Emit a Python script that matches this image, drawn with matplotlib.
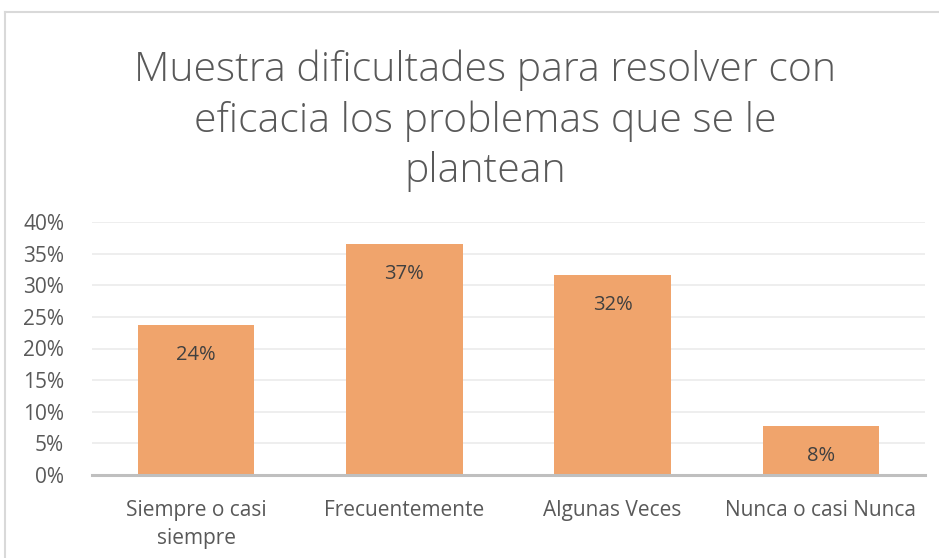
import matplotlib
matplotlib.use("Agg")
import matplotlib.pyplot as plt
from matplotlib.lines import Line2D
from matplotlib.ticker import PercentFormatter, MultipleLocator

categories = ["Siempre o casi\nsiempre", "Frecuentemente", "Algunas Veces", "Nunca o casi Nunca"]
values = [0.237, 0.365, 0.316, 0.077]
labels = ["24%", "37%", "32%", "8%"]
title = "Muestra dificultades para resolver con\neficacia los problemas que se le\nplantean"

W, H = 939, 558
fig = plt.figure(figsize=(W / 100, H / 100), dpi=100)
fig.patch.set_facecolor("white")

# frame (left and top edges visible)
fig.add_artist(Line2D([5 / W, 5 / W], [0, 1 - 12 / H], transform=fig.transFigure, color="#D9D9D9", lw=1.5))
fig.add_artist(Line2D([5 / W, 1], [1 - 12 / H, 1 - 12 / H], transform=fig.transFigure, color="#D9D9D9", lw=1.5))

ax = fig.add_axes([92 / W, 1 - 475 / H, (925 - 92) / W, (475 - 222) / H])
x = range(len(categories))
ax.bar(x, values, width=0.56, color="#F0A46C", zorder=3)
for xi, v, lab in zip(x, values, labels):
    ax.annotate(lab, (xi, v), xytext=(0, -14), textcoords="offset points",
                ha="center", va="top", fontsize=14.5, color="#404040", family="Open Sans", zorder=4)

ax.set_ylim(0, 0.40)
ax.set_xlim(-0.5, 3.5)
ax.yaxis.set_major_locator(MultipleLocator(0.05))
ax.yaxis.set_major_formatter(PercentFormatter(1.0, decimals=0))
ax.grid(axis="y", color="#EDEDED", lw=1.3, zorder=0)
for s in ["top", "right", "left"]:
    ax.spines[s].set_visible(False)
ax.spines["bottom"].set_color("#BFBFBF")
ax.spines["bottom"].set_linewidth(2.2)
ax.spines["bottom"].set_zorder(5)
ax.tick_params(axis="both", length=0, labelsize=15, colors="#595959")
ax.tick_params(axis="y", pad=20)
ax.tick_params(axis="x", pad=18)
ax.set_xticks(list(x))
ax.set_xticklabels(categories, family="Open Sans", linespacing=1.45)
for t in ax.get_yticklabels():
    t.set_family("Open Sans")

fig.text(485 / W, 1 - 121 / H, title, ha="center", va="center", fontsize=29.5,
         color="#595959", family="Open Sans", fontweight="light", linespacing=1.3)

fig.savefig("out.png", dpi=100)
